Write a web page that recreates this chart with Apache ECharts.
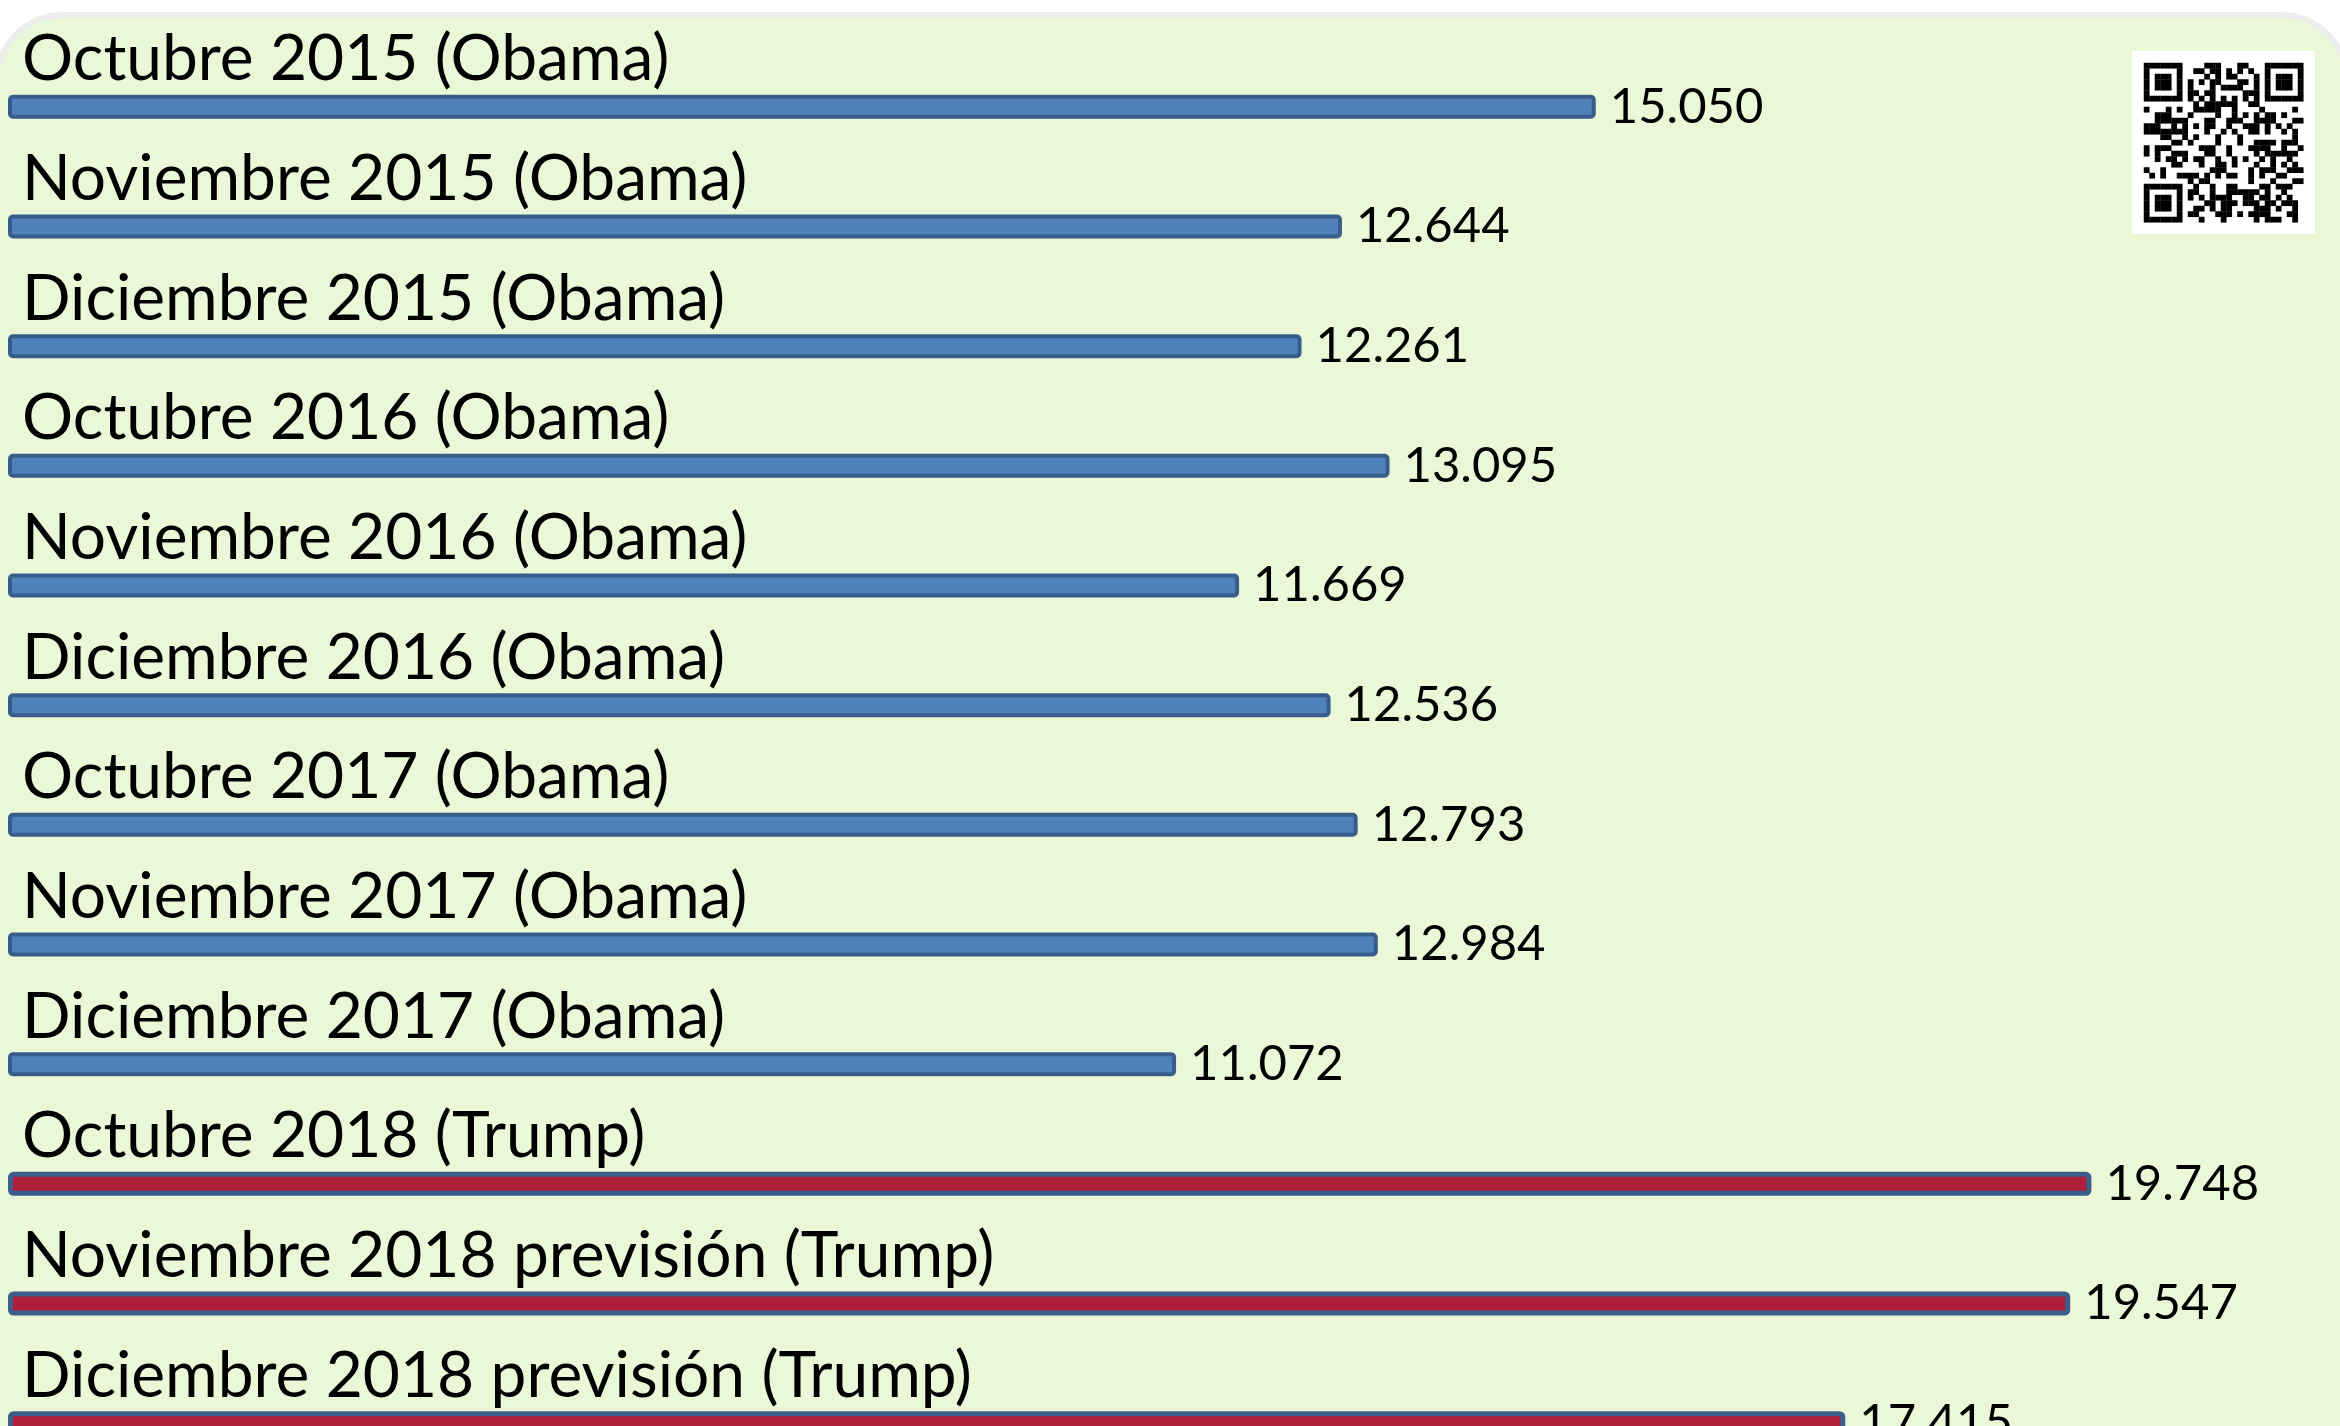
<!DOCTYPE html>
<html>
<head>
<meta charset="utf-8">
<script src="https://cdn.jsdelivr.net/npm/echarts@6/dist/echarts.min.js"></script>
<style>
html,body{margin:0;padding:0;background:#ffffff;overflow:hidden;}
#chart{width:2340px;height:1426px;}
</style>
</head>
<body>
<div id="chart"></div>
<script>
const categories = [
  'Octubre 2015 (Obama)',
  'Noviembre 2015 (Obama)',
  'Diciembre 2015 (Obama)',
  'Octubre 2016 (Obama)',
  'Noviembre 2016 (Obama)',
  'Diciembre 2016 (Obama)',
  'Octubre 2017 (Obama)',
  'Noviembre 2017 (Obama)',
  'Diciembre 2017 (Obama)',
  'Octubre 2018 (Trump)',
  'Noviembre 2018 previsión (Trump)',
  'Diciembre 2018 previsión (Trump)'
];
const values = [15050, 12644, 12261, 13095, 11669, 12536, 12793, 12984, 11072, 19748, 19547, 17415];

function fmt(n){ return String(n).replace(/\B(?=(\d{3})+(?!\d))/g, '.'); }

const obamaStyle = { color:'#4F81BD', borderColor:'#385D8A', borderWidth:4, borderRadius:3 };
const trumpStyle = { color:'#B01F3A', borderColor:'#3B5E8B', borderWidth:5, borderRadius:3 };

// decorative QR-like block
function qrGraphic(x0, y0, box){
  const N = 29, m = 5.5;
  const pad = (box - N*m)/2;
  const els = [{type:'rect', shape:{x:x0, y:y0, width:box, height:box}, style:{fill:'#ffffff'}}];
  const isFinder = (i,j)=> (i<8&&j<8)||(i<8&&j>=N-8)||(i>=N-8&&j<8);
  function finderOn(i,j){
    const fi = i<8 ? i : i-(N-7), fj = j<8 ? j : j-(N-7);
    if (fi<0||fj<0||fi>6||fj>6) return false;
    if (fi===0||fi===6||fj===0||fj===6) return true;
    if (fi>=2&&fi<=4&&fj>=2&&fj<=4) return true;
    return false;
  }
  for (let i=0;i<N;i++){
    for (let j=0;j<N;j++){
      let on;
      if (isFinder(i,j)) on = finderOn(i,j);
      else if (i===6) on = j%2===0;
      else if (j===6) on = i%2===0;
      else { const h = ((i*92821) ^ (j*68917) ^ (i*j*131)) % 11; on = h < 5; }
      if (on) els.push({type:'rect', shape:{x:x0+pad+j*m, y:y0+pad+i*m, width:m+0.3, height:m+0.3}, style:{fill:'#000000'}});
    }
  }
  return {type:'group', children:els};
}

const chart = echarts.init(document.getElementById('chart'), null, {renderer:'canvas'});
chart.setOption({
  backgroundColor:'#ffffff',
  animation:false,
  graphic:[
    {type:'rect', z:-10, shape:{x:-3, y:15, width:2350, height:1500, r:66},
     style:{fill:'#EBF8D7', stroke:'#EDEDEB', lineWidth:6}},
    Object.assign(qrGraphic(2132, 51, 183), {z:-5})
  ],
  grid:{left:8, top:47, width:2321, height:1436, containLabel:false, outerBoundsMode:'none'},
  xAxis:{type:'value', min:0, max:22000, show:false},
  yAxis:{
    type:'category', inverse:true, data:categories,
    axisLine:{show:false}, axisTick:{show:false}, splitLine:{show:false},
    axisLabel:{inside:true, margin:14, align:'left', verticalAlign:'middle',
      interval:0, showMinLabel:true, showMaxLabel:true, hideOverlap:false,
      formatter: v => '{n|' + v + '}\n{s|}',
      rich:{
        n:{fontFamily:'Lato', fontSize:64, lineHeight:64, color:'#000000'},
        s:{fontSize:10, lineHeight:94, height:94}
      }}
  },
  series:[{
    type:'bar', barWidth:24,
    data: values.map((v,i)=>({value:v, itemStyle: categories[i].indexOf('Trump')>=0 ? trumpStyle : obamaStyle})),
    label:{show:true, position:'right', distance:14, formatter:p=>fmt(p.value),
      fontFamily:'Lato', fontSize:49, color:'#000000'}
  }]
});
</script>
</body>
</html>
